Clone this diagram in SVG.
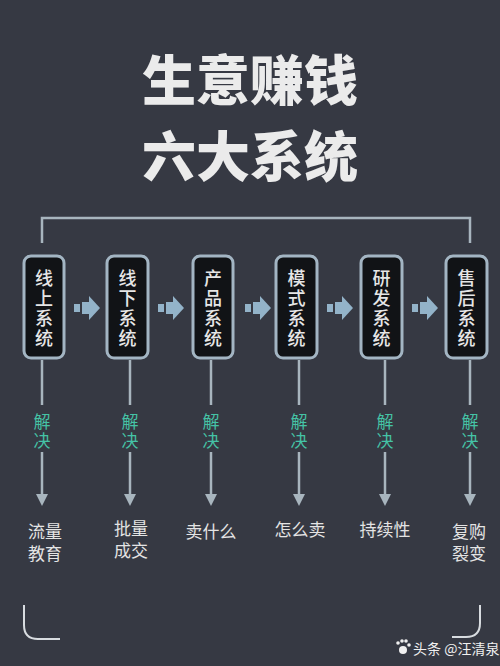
<svg xmlns="http://www.w3.org/2000/svg" width="500" height="666" viewBox="0 0 500 666">
<style>
.title{font-family:"Noto Sans CJK SC",sans-serif;font-weight:900;font-size:54px;fill:#ebebeb;text-anchor:middle}
.box{fill:#111316;stroke:#a3b5c3;stroke-width:3}
.bt{font-family:"Noto Sans CJK SC",sans-serif;font-weight:500;font-size:18px;fill:#e6e6e6;text-anchor:middle}
.jj{font-family:"Noto Sans CJK SC",sans-serif;font-size:17px;fill:#45c3a6;text-anchor:middle}
.out{font-family:"Noto Sans CJK SC",sans-serif;font-size:17px;fill:#e4e4e4;text-anchor:middle}
.ln{stroke:#a8b5be;stroke-width:2.5;fill:none}
.ah{fill:#a8b5be}
.ar{fill:#93b3c9}
.wm{font-family:"Noto Sans CJK SC",sans-serif;font-size:14px;fill:#f0f0f0}
</style>
<defs>
<g id="harrow"><rect x="0" y="-4" width="6" height="8"/><rect x="8" y="-6" width="8" height="12"/><polygon points="15,-12 26,0 15,12"/></g>
<g id="vconn"><line x1="0" y1="360" x2="0" y2="405" class="ln"/><line x1="0" y1="452" x2="0" y2="496" class="ln"/><polygon class="ah" points="-6,494 6,494 0,506"/></g>
</defs>
<rect width="500" height="666" fill="#363943"/>
<text class="title" x="250" y="101">生意赚钱</text>
<text class="title" x="250" y="177">六大系统</text>
<g id="connectors">
<path class="ln" d="M42,243 V218 H470 V243"/>
<g class="ar">
<use href="#harrow" transform="translate(74,308)"/>
<use href="#harrow" transform="translate(158,308)"/>
<use href="#harrow" transform="translate(245,308)"/>
<use href="#harrow" transform="translate(327,308)"/>
<use href="#harrow" transform="translate(412,308)"/>
</g>
<use href="#vconn" transform="translate(42,0)"/>
<use href="#vconn" transform="translate(130,0)"/>
<use href="#vconn" transform="translate(211,0)"/>
<use href="#vconn" transform="translate(299,0)"/>
<use href="#vconn" transform="translate(385,0)"/>
<use href="#vconn" transform="translate(470,0)"/>
</g>
<g id="n1"><rect class="box" x="24" y="256" width="40" height="102" rx="7"/><text class="bt"><tspan x="44" y="285">线</tspan><tspan x="44" y="305">上</tspan><tspan x="44" y="325">系</tspan><tspan x="44" y="345">统</tspan></text></g>
<g id="n2"><rect class="box" x="107" y="256" width="41" height="102" rx="7"/><text class="bt"><tspan x="127.5" y="285">线</tspan><tspan x="127.5" y="305">下</tspan><tspan x="127.5" y="325">系</tspan><tspan x="127.5" y="345">统</tspan></text></g>
<g id="n3"><rect class="box" x="193" y="256" width="40" height="102" rx="7"/><text class="bt"><tspan x="213" y="285">产</tspan><tspan x="213" y="305">品</tspan><tspan x="213" y="325">系</tspan><tspan x="213" y="345">统</tspan></text></g>
<g id="n4"><rect class="box" x="276" y="256" width="41" height="102" rx="7"/><text class="bt"><tspan x="296.5" y="285">模</tspan><tspan x="296.5" y="305">式</tspan><tspan x="296.5" y="325">系</tspan><tspan x="296.5" y="345">统</tspan></text></g>
<g id="n5"><rect class="box" x="361" y="256" width="41" height="102" rx="7"/><text class="bt"><tspan x="381.5" y="285">研</tspan><tspan x="381.5" y="305">发</tspan><tspan x="381.5" y="325">系</tspan><tspan x="381.5" y="345">统</tspan></text></g>
<g id="n6"><rect class="box" x="446" y="256" width="41" height="102" rx="7"/><text class="bt"><tspan x="466.5" y="285">售</tspan><tspan x="466.5" y="305">后</tspan><tspan x="466.5" y="325">系</tspan><tspan x="466.5" y="345">统</tspan></text></g>
<g id="labels">
<text class="jj"><tspan x="42" y="428">解</tspan><tspan x="42" y="447">决</tspan></text>
<text class="jj"><tspan x="130" y="428">解</tspan><tspan x="130" y="447">决</tspan></text>
<text class="jj"><tspan x="211" y="428">解</tspan><tspan x="211" y="447">决</tspan></text>
<text class="jj"><tspan x="299" y="428">解</tspan><tspan x="299" y="447">决</tspan></text>
<text class="jj"><tspan x="385" y="428">解</tspan><tspan x="385" y="447">决</tspan></text>
<text class="jj"><tspan x="470" y="428">解</tspan><tspan x="470" y="447">决</tspan></text>
</g>
<g id="outcomes">
<text class="out"><tspan x="45" y="538">流量</tspan><tspan x="45" y="560">教育</tspan></text>
<text class="out"><tspan x="131" y="535">批量</tspan><tspan x="131" y="557">成交</tspan></text>
<text class="out" x="211" y="538">卖什么</text>
<text class="out" x="300" y="536">怎么卖</text>
<text class="out" x="385" y="536">持续性</text>
<text class="out"><tspan x="469" y="538">复购</tspan><tspan x="469" y="560">裂变</tspan></text>
</g>
<path d="M24,605 V625 Q24,639 38,639 H60" fill="none" stroke="#d8dce0" stroke-width="2"/>
<path d="M480,605 V623 Q480,637 466,637 H452" fill="none" stroke="#d8dce0" stroke-width="2"/>
<g fill="#f0f0f0"><circle cx="403" cy="650" r="4"/><circle cx="398" cy="643" r="1.8"/><circle cx="402" cy="641" r="1.8"/><circle cx="406" cy="641" r="1.8"/><circle cx="409" cy="645" r="1.8"/></g>
<text class="wm" x="413" y="654">头条 @汪清泉</text>
</svg>
